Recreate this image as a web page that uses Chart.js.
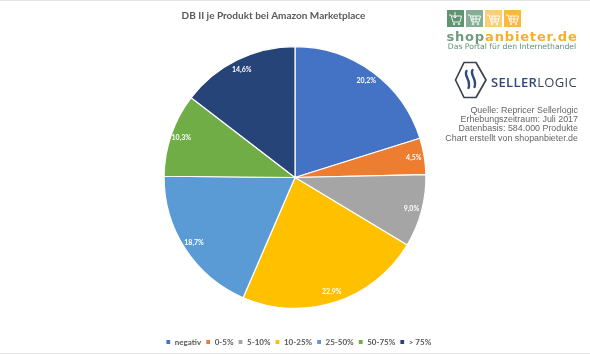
<!DOCTYPE html>
<html>
<head>
<meta charset="utf-8">
<script src="https://cdn.jsdelivr.net/npm/chart.js@4"></script>
<style>
html, body { margin: 0; padding: 0; background: #fff; }
#wrap { position: relative; width: 590px; height: 354px; overflow: hidden; }
#c { position: absolute; left: 0; top: 0; }
.edge { position: absolute; left: 0; right: 0; height: 1px; background: #e4e4e4; }
#logo1 { position: absolute; left: 446px; top: 10px; }
#shopname { position: absolute; left: 440px; top: 28.5px; width: 144px; text-align: center; font: bold 13px "DejaVu Sans", sans-serif; letter-spacing: 0.85px; color: #6f9c80; white-space: nowrap; }
#shopname span { color: #f7ae2f; }
#shopsub { position: absolute; left: 440px; top: 41.5px; width: 144px; text-align: center; font: 7.7px "DejaVu Sans", sans-serif; color: #5f8f70; white-space: nowrap; }
#logo2 { position: absolute; left: 454px; top: 61px; }
#sl { position: absolute; left: 491px; top: 72.5px; font: 600 13px "Open Sans", sans-serif; color: #30497c; white-space: nowrap; letter-spacing: 0.35px; }
#sl span { color: #3c4654; font-weight: 400; }
#note { position: absolute; right: 12px; top: 106px; text-align: right; font: 8.9px/9.2px "Liberation Sans", sans-serif; color: #666; white-space: nowrap; }
</style>
</head>
<body>
<div id="wrap">
<canvas id="c" width="590" height="354"></canvas>
<div class="edge" style="top:0"></div>
<div class="edge" style="bottom:0"></div>
<svg id="logo1" width="78" height="18" viewBox="0 0 78 18">
  <rect x="1" y="0" width="17" height="17" fill="#5f9470"/>
  <rect x="20" y="0" width="17" height="17" fill="#86ae95"/>
  <rect x="39" y="0" width="17" height="17" fill="#fbcf78"/>
  <rect x="58" y="0" width="17" height="17" fill="#fbb73e"/>
  <g fill="none" stroke="#fff" stroke-width="0.9">
    <path d="M3 5h2l2 7h7l1.500-6H6M9 2v6M7.500 6.500L9 8l1.500-1.500"/><circle cx="8" cy="14" r="0.8"/><circle cx="13" cy="14" r="0.8"/>
    <path d="M22 5h2l2 7h7l1.500-6H25M27 6v6M30 6v6M25 9h9"/><circle cx="27" cy="14" r="0.8"/><circle cx="32" cy="14" r="0.8"/>
    <path d="M41 5h2l2 7h7l1.500-6H44M46 6v6M49 6v6M44 9h9"/><circle cx="46" cy="14" r="0.8"/><circle cx="51" cy="14" r="0.8"/>
    <path d="M60 5h2l2 7h7l1.500-6H63M65 6v6M68 6v6M63 9h9"/><circle cx="65" cy="14" r="0.8"/><circle cx="70" cy="14" r="0.8"/>
  </g>
</svg>
<div id="shopname">shop<span>anbieter.de</span></div>
<div id="shopsub">Das Portal für den Internethandel</div>
<svg id="logo2" width="34" height="38" viewBox="0 0 34 38">
  <path d="M10 1.500h12l10 17.500-10 17.500H10L1.500 19z" fill="none" stroke="#3a4450" stroke-width="1.7" stroke-linejoin="round"/>
  <path d="M12.500 10c-3 5 5 9 2 17M18.500 9c-3 5 5 9 2 17" fill="none" stroke="#2f4a80" stroke-width="2.4" stroke-linecap="round"/>
</svg>
<div id="sl">SELLER<span>LOGIC</span></div>
<div id="note">Quelle: Repricer Sellerlogic<br>Erhebungszeitraum: Juli 2017<br>Datenbasis: 584.000 Produkte<br>Chart erstellt von shopanbieter.de</div>
</div>
<script>
const titleText = "DB II je Produkt bei Amazon Marketplace";
const categories = ["negativ", "0-5%", "5-10%", "10-25%", "25-50%", "50-75%", "> 75%"];
const shares = [20.2, 4.5, 9.0, 22.9, 18.7, 10.3, 14.6];
const shareLabels = ["20,2%", "4,5%", "9,0%", "22,9%", "18,7%", "10,3%", "14,6%"];
const colors = ["#4472c4", "#ed7d31", "#a5a5a5", "#ffc000", "#5b9bd5", "#70ad47", "#264478"];

// labels sit near the rim of each slice, like the Excel "inside end" option
const sliceLabels = {
    id: "sliceLabels",
    afterDatasetsDraw(chart) {
        const ctx = chart.ctx;
        const arcs = chart.getDatasetMeta(0).data;
        ctx.save();
        ctx.font = "bold 7px Lato, sans-serif";
        ctx.fillStyle = "#fff";
        ctx.textAlign = "center";
        ctx.textBaseline = "middle";
        arcs.forEach((arc, i) => {
            const mid = (arc.startAngle + arc.endAngle) / 2;
            const r = arc.outerRadius * 0.92;
            ctx.fillText(shareLabels[i], arc.x + Math.cos(mid) * r, arc.y + Math.sin(mid) * r);
        });
        ctx.restore();
    },
};

// the original title sits left of the pie centre and the legend well below it
const nudgeBlocks = {
    id: "nudgeBlocks",
    afterLayout(chart) {
        chart.titleBlock.left -= 21.5;
        chart.titleBlock.right -= 21.5;
        chart.legend.top += 24.5;
        chart.legend.bottom += 24.5;
        chart.legend.left += 3.5;
        chart.legend.right += 3.5;
    },
};

new Chart(document.getElementById("c"), {
    type: "pie",
    data: {
        labels: categories,
        datasets: [{
            data: shares,
            backgroundColor: colors,
            borderColor: "#fff",
            borderWidth: 1.2,
        }],
    },
    options: {
        responsive: false,
        animation: false,
        layout: { padding: { bottom: 22.5 } },
        plugins: {
            title: {
                display: true,
                text: titleText,
                color: "#595959",
                font: { family: "Lato, sans-serif", size: 10, weight: "bold" },
                padding: { top: 10, bottom: 24 },
            },
            legend: {
                position: "bottom",
                labels: {
                    color: "#595959",
                    font: { family: "Lato, sans-serif", size: 8, weight: "bold" },
                    usePointStyle: true,
                    pointStyle: "rect",
                    boxWidth: 5,
                    boxHeight: 5,
                    padding: 4.5,
                },
            },
            tooltip: { enabled: false },
        },
    },
    plugins: [sliceLabels, nudgeBlocks],
});
</script>
</body>
</html>
